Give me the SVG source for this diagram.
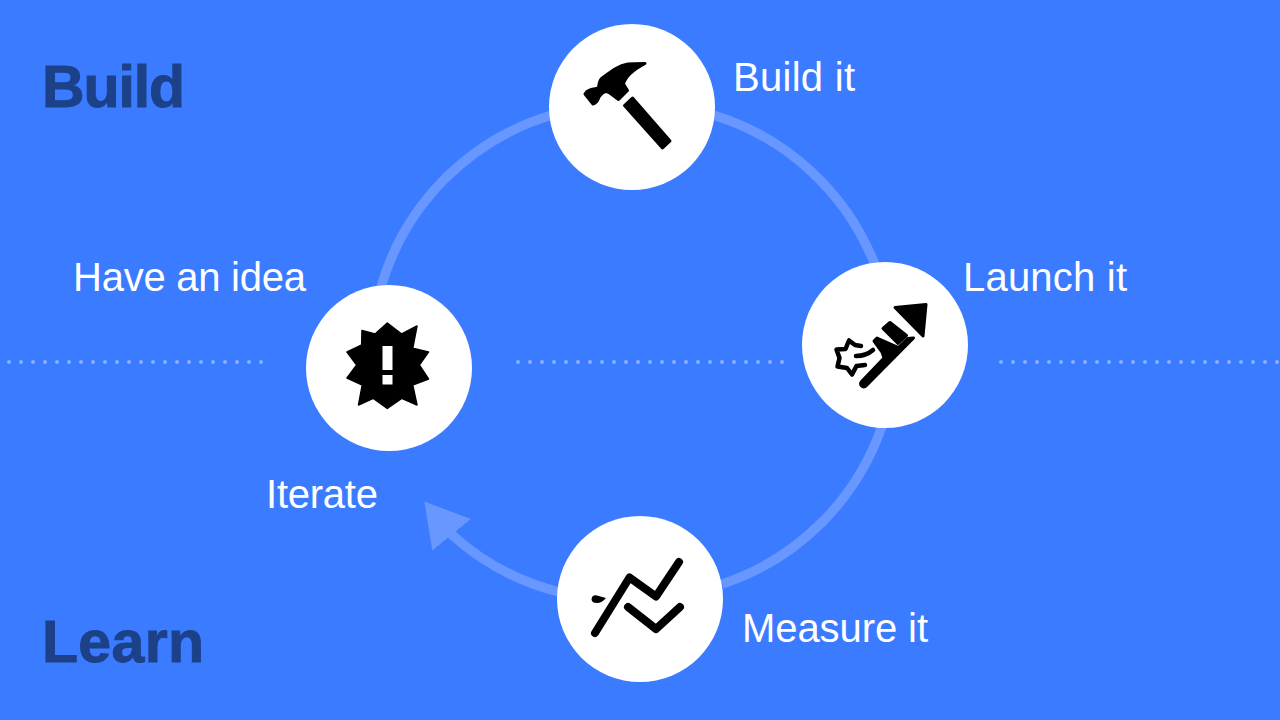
<svg xmlns="http://www.w3.org/2000/svg" width="1280" height="720" viewBox="0 0 1280 720">
<style>
text{font-family:"Liberation Sans",Arial,sans-serif;fill:#fff;font-size:40px}
text.big{font-size:59px;font-weight:700;fill:#1d4189;stroke:#1d4189;stroke-width:1}
.ring{fill:none;stroke:#6797ff;stroke-width:9.500}
.dots{fill:none;stroke:#8bb0ff;stroke-width:4;stroke-linecap:round;stroke-dasharray:0 12}
.disc{fill:#fff}
.ink{fill:#000;stroke:#000;stroke-width:3;stroke-linejoin:round}
.star{fill:#000;stroke:#000;stroke-width:1.500;stroke-linejoin:round}
.line{fill:none;stroke:#000;stroke-width:8;stroke-linecap:round;stroke-linejoin:round}
.thin{fill:none;stroke:#000;stroke-width:4.500;stroke-linecap:round;stroke-linejoin:round}
</style>
<defs>
<marker id="head" markerUnits="userSpaceOnUse" markerWidth="44" markerHeight="50" viewBox="0 0 44 50" refX="1" refY="25" orient="230.7"><path d="M0 0L43 25L0 50Z" fill="#6797ff"/></marker>
</defs>
<rect width="1280" height="720" fill="#3b7bff"/>
<g id="divider">
<line class="dots" x1="9" y1="362" x2="262" y2="362"/>
<line class="dots" x1="518" y1="362" x2="783" y2="362"/>
<line class="dots" x1="1001" y1="362" x2="1278" y2="362"/>
</g>
<g id="connectors">
<path class="ring" d="M381 287A253 253 0 0 1 552 115"/>
<path class="ring" d="M713 115A253 253 0 0 1 875 265"/>
<path class="ring" d="M882 426A253 253 0 0 1 722 584"/>
<path class="ring" d="M559 592A253 253 0 0 1 451 534" marker-end="url(#head)"/>
</g>
<g id="node-build">
<circle class="disc" cx="632" cy="107" r="83"/>
<path class="ink" d="M645 63.500C640 63.500 633 63.500 628 64C618 65.500 610 72 601.500 78.500C599 81 599 84 598.500 88C594 89 590 89 587 91.500L585 94L593 104C597 103 598 100 599 97C601 94 603 92 606 91.500C610 92 613 96 618.500 99.500L627.500 90.500L623.500 84C625 78 631 71 645 63.500Z"/>
<path class="ink" d="M624.500 105.500L632.500 98L670 141L662.500 148Z"/>
<text x="733" y="91" textLength="122">Build it</text>
</g>
<g id="node-launch">
<circle class="disc" cx="885" cy="345" r="83"/>
<path class="ink" d="M895 307.500L926 304.500L923 336Z"/>
<path class="ink" d="M883 328.500L890 322.500L906.500 335.500L898 343.500Z"/>
<path class="ink" d="M874 341L877 338L898.500 347.500L907.500 338.500L913.500 338L866 386A3 3 0 0 1 861.500 381.500L884 358L882 352Z"/>
<path class="thin" d="M861 346L855 345L849 340.500L845.500 349L836.500 349.500L839.500 358L837.500 366.500L847 368L852 374.500L856.500 366L865 365"/>
<path class="thin" d="M856 356Q866 356 873 350"/>
<text x="963" y="291" textLength="164">Launch it</text>
</g>
<g id="node-measure">
<circle class="disc" cx="640" cy="599" r="83"/>
<path class="line" d="M595 633L629.500 577.500L656 596.500L679 562"/>
<path class="line" d="M628 607L656 629L680 607"/>
<path d="M591.500 599.500Q592 594.500 597 595.500L606 598Q602 603 597 603Q592 603 591.500 599.500Z"/>
<text x="742" y="642" textLength="186">Measure it</text>
</g>
<g id="node-iterate">
<circle class="disc" cx="389" cy="368" r="83"/>
<path class="star" d="M387.300 323L401.700 334L417 326L412.700 348.300L428.500 352L419.300 365L428.500 379L412.700 385L417 405L401.700 398.300L387.300 408.500L373.300 398.300L358.500 405L362.300 385L347 378L356.700 365L347 352L361.700 345L362 330.500L375 334Z"/>
<rect x="382.500" y="346" width="10" height="24" fill="#fff"/>
<rect x="382.500" y="375" width="10" height="9.500" fill="#fff"/>
<text x="73" y="291" textLength="233">Have an idea</text>
<text x="266" y="508" textLength="112">Iterate</text>
</g>
<g id="phases">
<text class="big" x="42" y="107" textLength="143">Build</text>
<text class="big" x="42" y="662" textLength="162">Learn</text>
</g>
</svg>
